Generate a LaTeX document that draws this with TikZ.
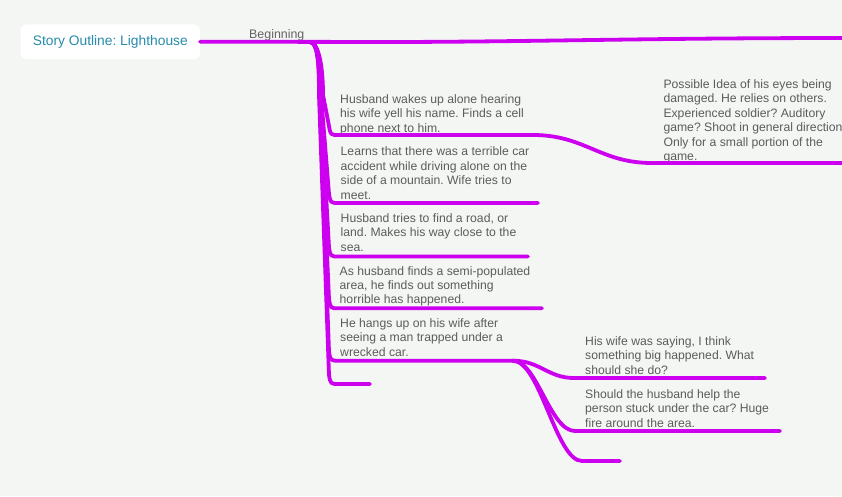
\documentclass[tikz,border=0pt]{standalone}
\usepackage{fontspec}
\setmainfont{Liberation Sans}
\definecolor{bgc}{RGB}{243,246,243}
\definecolor{brc}{RGB}{204,0,238}
\definecolor{txtc}{RGB}{92,92,92}
\definecolor{tealc}{RGB}{38,140,170}
\begin{document}
\frenchspacing
\begin{tikzpicture}[x=1pt,y=-1pt,
  link/.style={draw=brc, line width=3.8pt, line cap=round, line join=round},
  topic/.style={anchor=base west, inner sep=0pt, align=left, text=txtc,
    font=\fontsize{12.2}{14.45}\selectfont},
  rootbox/.style={fill=white, rounded corners=5pt, minimum width=179pt,
    minimum height=34.5pt, inner sep=0pt, text=tealc, font=\fontsize{13.8}{16}\selectfont},
  tag/.style={anchor=base west, inner sep=0pt, text={rgb,255:red,100;green,100;blue,100},
    font=\fontsize{12.4}{14}\selectfont}]
\fill[bgc] (0,0) rectangle (842,496);
\useasboundingbox (0,0) rectangle (842,496);

% nodes (base anchor = baseline of last line)
\node[rootbox] (root) at (110.3,41.7) {Story Outline: Lighthouse};
\node[tag] (beginning) at (249,38.5) {Beginning};
\node[topic] (t1) at (340,132.2) {Husband wakes up alone hearing\\his wife yell his name. Finds a cell\\phone next to him.};
\node[topic] (t2) at (340.5,199) {Learns that there was a terrible car\\accident while driving alone on the\\side of a mountain. Wife tries to\\meet.};
\node[topic] (t3) at (340.5,251.2) {Husband tries to find a road, or\\land. Makes his way close to the\\sea.};
\node[topic] (t4) at (339.5,303.9) {As husband finds a semi-populated\\area, he finds out something\\horrible has happened.};
\node[topic] (t5) at (340,356.2) {He hangs up on his wife after\\seeing a man trapped under a\\wrecked car.};
\node[topic] (t6) at (663.3,160.5) {Possible Idea of his eyes being\\damaged. He relies on others.\\Experienced soldier? Auditory\\game? Shoot in general direction\\Only for a small portion of the\\game.};
\node[topic] (t7) at (585,374.2) {His wife was saying, I think\\something big happened. What\\should she do?};
\node[topic] (t8) at (585,427.2) {Should the husband help the\\person stuck under the car? Huge\\fire around the area.};

% coordinates
\coordinate (beg) at (310,42);
\coordinate (mainend) at (850,38);
\coordinate (e1) at (533,135);
\coordinate (e6) at (850,163);
\coordinate (e2) at (538,203);
\coordinate (e3) at (528,256.5);
\coordinate (e4) at (542,308.3);
\coordinate (e5) at (513,360.7);
\coordinate (e9) at (370,384);
\coordinate (e7) at (765,378);
\coordinate (e8) at (780,431);
\coordinate (e10) at (620,461);

% main line
\draw[link] (root.east) -- (400,42) .. controls (550,41.5) and (650,38) .. (mainend);

% trunk branches
\foreach \yy/\ee/\mx in {135/e1/323, 203/e2/321, 256.5/e3/320.5, 308.3/e4/320, 360.7/e5/319.5, 384/e9/319}{
  \draw[link] (beg) .. controls (317,42) and (\mx,60) .. (\mx,95)
    -- (329,\yy-9) .. controls (330.5,\yy) .. (339,\yy) -- (\ee);
}

% child of first topic
\draw[link] (e1) .. controls (585,135) and (600,163) .. (652,163) -- (e6);

% children of fifth topic
\draw[link] (e5) .. controls (540,360.7) and (548,378) .. (574,378) -- (e7);
\draw[link] (e5) .. controls (537,360.7) and (550,431) .. (575,431) -- (e8);
\draw[link] (e5) .. controls (540,360.7) and (556,461) .. (582,461) -- (e10);
\end{tikzpicture}
\end{document}
